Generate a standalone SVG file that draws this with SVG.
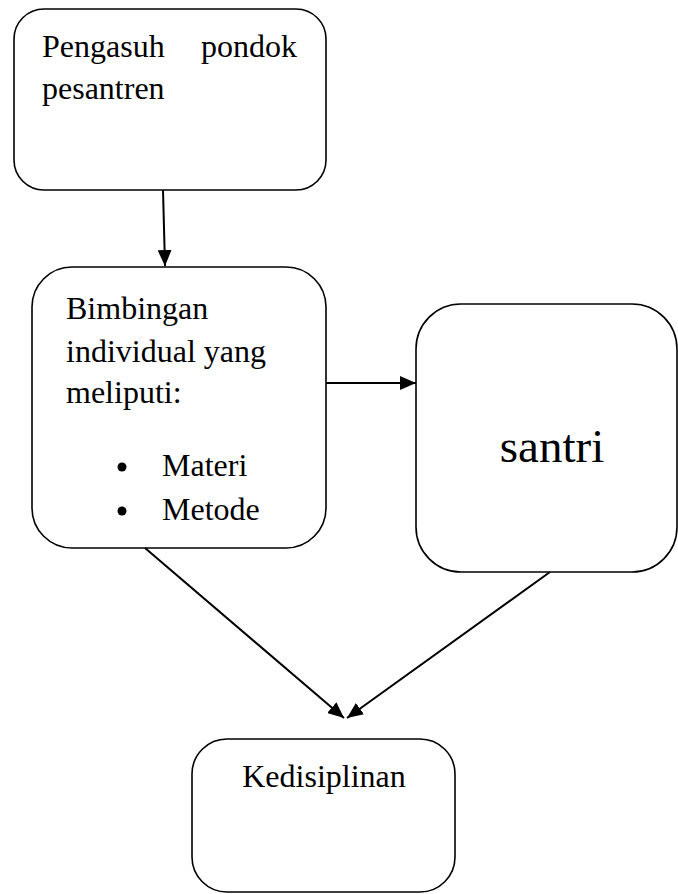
<svg xmlns="http://www.w3.org/2000/svg" width="678" height="894" viewBox="0 0 678 894">
<style>
.box{fill:#fff;stroke:#000;stroke-width:1.6}
.c{fill:none;stroke:#000;stroke-width:2}
</style>
<defs>
<marker id="ah" markerUnits="userSpaceOnUse" markerWidth="16" markerHeight="14" refX="16" refY="7" orient="auto">
<path d="M0,0 L16,7 L0,14 Z" fill="#000"/>
</marker>
</defs>
<rect width="678" height="894" fill="#fff"/>
<g id="n1">
<rect class="box" x="14" y="9" width="312" height="181" rx="30"/>
<text x="42" y="57" font-family="'Liberation Serif', serif" font-size="32">Pengasuh</text>
<text x="297" y="57" text-anchor="end" font-family="'Liberation Serif', serif" font-size="32">pondok</text>
<text x="42" y="99" font-family="'Liberation Serif', serif" font-size="32">pesantren</text>
</g>
<g id="n2">
<rect class="box" x="32" y="267" width="294" height="281" rx="40"/>
<text x="66" y="319" font-family="'Liberation Serif', serif" font-size="32">Bimbingan</text>
<text x="66" y="362" font-family="'Liberation Serif', serif" font-size="32">individual yang</text>
<text x="66" y="403" font-family="'Liberation Serif', serif" font-size="32">meliputi:</text>
<circle cx="122" cy="467" r="4.5"/>
<text x="162" y="476" font-family="'Liberation Serif', serif" font-size="32">Materi</text>
<circle cx="122" cy="511" r="4.5"/>
<text x="162" y="520" font-family="'Liberation Serif', serif" font-size="32">Metode</text>
</g>
<g id="n3">
<rect class="box" x="416" y="304" width="261" height="268" rx="45"/>
<text x="552" y="462" text-anchor="middle" font-family="'Liberation Serif', serif" font-size="47">santri</text>
</g>
<g id="n4">
<rect class="box" x="192" y="739" width="263" height="153" rx="35"/>
<text x="324" y="787" text-anchor="middle" font-family="'Liberation Serif', serif" font-size="32">Kedisiplinan</text>
</g>
<g id="connectors">
<line class="c" x1="163" y1="190" x2="165" y2="266" marker-end="url(#ah)"/>
<line class="c" x1="326" y1="383" x2="416" y2="383" marker-end="url(#ah)"/>
<line class="c" x1="145" y1="548" x2="344" y2="718" marker-end="url(#ah)"/>
<line class="c" x1="550" y1="572" x2="347" y2="718" marker-end="url(#ah)"/>
</g>
</svg>
